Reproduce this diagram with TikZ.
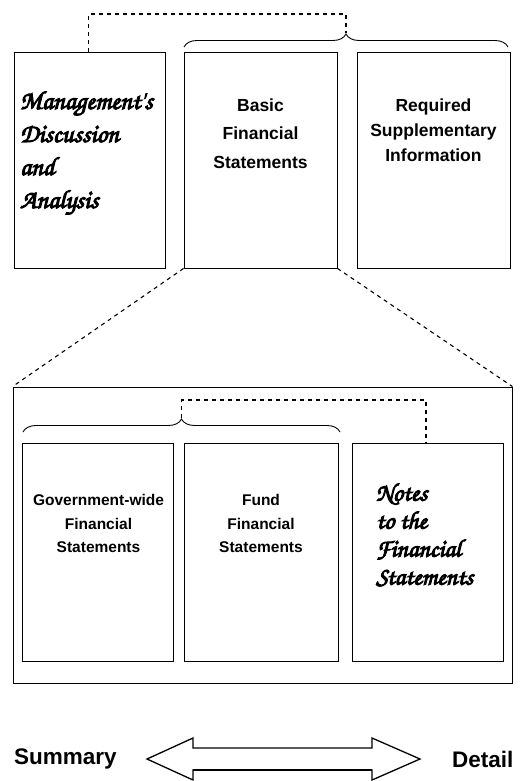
\documentclass[tikz,border=0pt]{standalone}
\usepackage{fontspec}
\setmainfont{Liberation Sans}
\newfontfamily\scriptf[FakeBold=4]{texgyrechorus-mediumitalic.otf}
\usetikzlibrary{decorations.pathreplacing,calc}
\begin{document}
\begin{tikzpicture}[x=1pt,y=-1pt,
  box/.style={draw, line width=0.9pt, inner sep=0pt},
  conn/.style={line width=1.1pt, dash pattern=on 4pt off 4pt},
  bracestyle/.style={line width=0.9pt, decorate, decoration={brace, amplitude=13pt}},
  toptext/.style={font=\fontsize{17.5}{28.5}\selectfont\bfseries, align=center, inner sep=0pt},
  lowtext/.style={font=\fontsize{15.5}{23.5}\selectfont\bfseries, align=center, inner sep=0pt},
  scripttext/.style={font=\fontsize{26}{33}\selectfont\scriptf, align=left, inner sep=0pt},
  endtext/.style={font=\fontsize{22.5}{26}\selectfont\bfseries, inner sep=0pt}]
\useasboundingbox (0,0) rectangle (524,781);

% top boxes
\node[box, minimum width=151pt, minimum height=216pt] (mda) at (89.5,160) {};
\node[box, minimum width=153pt, minimum height=216pt] (bfs) at (260.5,160) {};
\node[box, minimum width=153pt, minimum height=216pt] (rsi) at (433.5,160) {};

\node[scripttext, anchor=west] (mdat) at (20,153) {Management's\\Discussion\\and\\Analysis};
\node[toptext] (bfst) at (260.5,133.5) {Basic\\Financial\\Statements};
\node[toptext, font=\fontsize{17.5}{25}\selectfont\bfseries] (rsit) at (433.5,130) {Required\\Supplementary\\Information};

% top brace and connector
\draw[bracestyle] (184,47) -- (508,47);
\coordinate (bt1) at (346,33);
\coordinate (t1) at (346,14);
\draw[conn] ([xshift=75pt]mda.north west) |- (t1) -- (bt1);

% big box
\node[box, minimum width=499pt, minimum height=296pt] (big) at (262.5,535) {};
\draw[conn] (bfs.south west) -- (big.north west);
\draw[conn] (bfs.south east) -- (big.north east);

% inner boxes
\node[box, minimum width=151pt, minimum height=218pt] (gov) at (97.5,552) {};
\node[box, minimum width=154pt, minimum height=218pt] (fund) at (261,552) {};
\node[box, minimum width=151pt, minimum height=218pt] (notes) at (427.5,552) {};

\node[lowtext] (govt) at (98.5,523.5) {Government-wide\\Financial\\Statements};
\node[lowtext] (fundt) at (261,523.5) {Fund\\Financial\\Statements};
\node[scripttext, font=\fontsize{25}{28}\selectfont\scriptf, anchor=west] (notest) at (376,535) {Notes\\to the\\Financial\\Statements};

% inner brace and connector
\draw[bracestyle] (23,432) -- (340,432);
\coordinate (bt2) at (181.5,418);
\coordinate (t2) at (426,400);
\draw[conn] (bt2) |- (t2) -- (t2 |- notes.north);

% bottom arrow
\node[endtext, anchor=west] (sum) at (14,759) {Summary};
\node[endtext, anchor=west] (det) at (452,759) {Detail};
\draw[line width=1.3pt, line join=miter] (147,759) -- (193,738) -- (193,748) -- (372,748) -- (372,738) -- (420,759) -- (372,780) -- (372,770) -- (193,770) -- (193,780) -- cycle;
\draw[line width=2.2pt] (193,770) -- (372,770);
\end{tikzpicture}
\end{document}
